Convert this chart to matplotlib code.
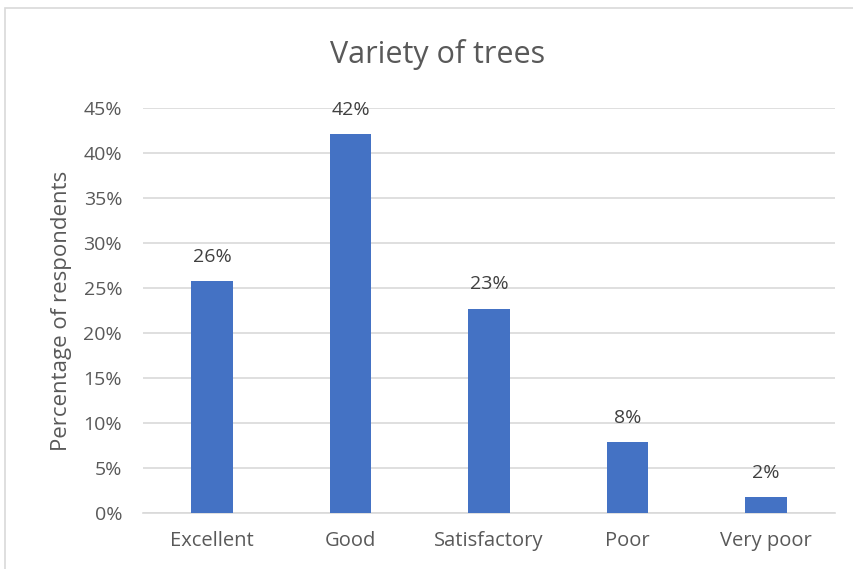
import matplotlib.pyplot as plt
from matplotlib.patches import Rectangle
from matplotlib.ticker import FuncFormatter

categories = ["Excellent", "Good", "Satisfactory", "Poor", "Very poor"]
shares = [25.8, 42.1, 22.7, 7.9, 1.8]
labels = ["26%", "42%", "23%", "8%", "2%"]
yticks = [0, 5, 10, 15, 20, 25, 30, 35, 40, 45]

plt.rcParams["font.family"] = ["Open Sans", "DejaVu Sans"]
text_col = "#595959"
bar_col = "#4472C4"
grid_col = "#D9D9D9"

fig = plt.figure(figsize=(8.54, 5.69), dpi=100)
ax = fig.add_axes([143 / 854, 1 - 513 / 569, 692 / 854, 405 / 569])

x = range(len(categories))
bars = ax.bar(x, shares, width=0.3, color=bar_col, zorder=3)
for b, lab in zip(bars, labels):
    ax.annotate(lab, (b.get_x() + b.get_width() / 2, b.get_height()),
                xytext=(0, 11), textcoords="offset points",
                ha="center", va="bottom", fontsize=14, color="#404040")

ax.set_xlim(-0.5, len(categories) - 0.5)
ax.set_ylim(0, 45)
ax.set_yticks(yticks)
ax.yaxis.set_major_formatter(FuncFormatter(lambda v, _: f"{v:.0f}%"))
ax.set_xticks(list(x))
ax.set_xticklabels(categories)
ax.tick_params(axis="both", length=0, labelsize=14, colors=text_col)
ax.tick_params(axis="y", pad=15)
ax.tick_params(axis="x", labelsize=14.5, pad=13)
ax.grid(axis="y", color=grid_col, linewidth=1.2, zorder=0)
for s in ["top", "right", "left"]:
    ax.spines[s].set_visible(False)
ax.spines["bottom"].set_color(grid_col)
ax.spines["bottom"].set_linewidth(1.2)

ax.set_ylabel("Percentage of respondents", fontsize=16, color=text_col, labelpad=8)
fig.text(438 / 854, 1 - 54 / 569, "Variety of trees", ha="center", va="center",
         fontsize=22, color=text_col)

fig.patches.append(Rectangle((5 / 854, -0.1), 1.2, 1 - 8 / 569 + 0.1,
                             transform=fig.transFigure, fill=False,
                             edgecolor="#D9D9D9", linewidth=1.2))

fig.savefig("out.png", dpi=100)
